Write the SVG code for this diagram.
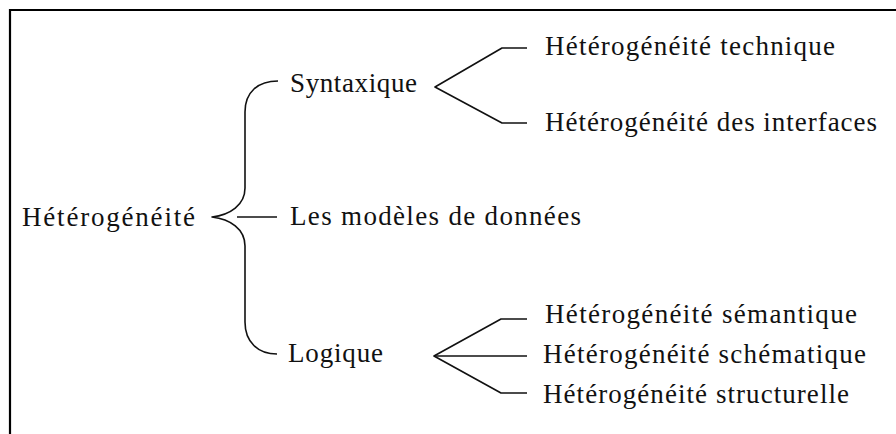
<svg xmlns="http://www.w3.org/2000/svg" width="896" height="434" viewBox="0 0 896 434">
  <style>
    .lbl { font-family: "Liberation Serif", "DejaVu Serif", serif; font-size: 27px; fill: #111; }
    .ln { fill: none; stroke: #111; stroke-width: 1.6; stroke-linejoin: round; }
    .frame { fill: none; stroke: #000; stroke-width: 2.2; }
  </style>
  <rect width="896" height="434" fill="#fff"/>
  <!-- open frame: left and top edges -->
  <path class="frame" d="M 10 434 L 10 10 L 900 10"/>

  <g id="connectors">
    <!-- main brace -->
    <path class="ln" d="M 278 81 C 258 81 245 92 245 112 L 245 188 C 245 205 230 215 212 217 C 230 219 245 229 245 246 L 245 322 C 245 342 258 354 277 354"/>
    <line class="ln" x1="237" y1="217" x2="277" y2="217"/>
    <!-- Syntaxique fork -->
    <path class="ln" d="M 527 48 L 502 48 L 435 87 L 502 123 L 527 123"/>
    <!-- Logique fork -->
    <path class="ln" d="M 527 319 L 501 319 L 434 356 L 501 393 L 527 393"/>
    <line class="ln" x1="434" y1="356" x2="527" y2="356"/>
  </g>

  <g id="root"><text class="lbl" x="22" y="226" textLength="173" lengthAdjust="spacing">Hétérogénéité</text></g>
  <g id="syntaxique"><text class="lbl" x="290" y="92" textLength="127" lengthAdjust="spacing">Syntaxique</text></g>
  <g id="modeles"><text class="lbl" x="290" y="225" textLength="291" lengthAdjust="spacing">Les modèles de données</text></g>
  <g id="logique"><text class="lbl" x="288" y="362" textLength="95" lengthAdjust="spacing">Logique</text></g>
  <g id="technique"><text class="lbl" x="545" y="55" textLength="290" lengthAdjust="spacing">Hétérogénéité technique</text></g>
  <g id="interfaces"><text class="lbl" x="545" y="131" textLength="332" lengthAdjust="spacing">Hétérogénéité des interfaces</text></g>
  <g id="semantique"><text class="lbl" x="545" y="323" textLength="312" lengthAdjust="spacing">Hétérogénéité sémantique</text></g>
  <g id="schematique"><text class="lbl" x="543" y="363" textLength="323" lengthAdjust="spacing">Hétérogénéité schématique</text></g>
  <g id="structurelle"><text class="lbl" x="543" y="403" textLength="306" lengthAdjust="spacing">Hétérogénéité structurelle</text></g>
</svg>
